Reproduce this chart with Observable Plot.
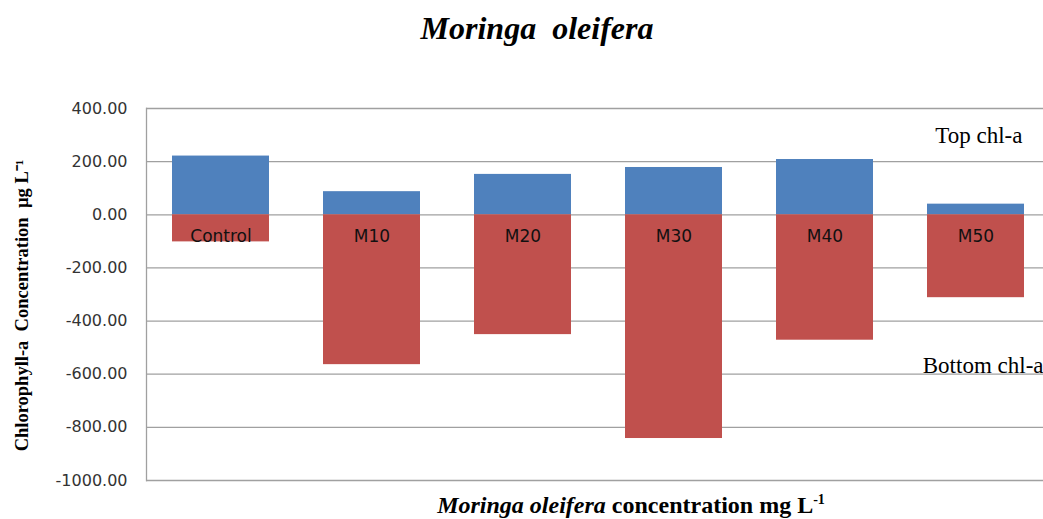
<!DOCTYPE html>
<html><head><meta charset="utf-8">
<script src="https://cdn.jsdelivr.net/npm/d3@7"></script>
<script src="https://cdn.jsdelivr.net/npm/@observablehq/plot@0.6"></script>
<style>
html,body{margin:0;padding:0;background:#fff;}
#wrap{position:relative;width:1043px;height:519px;overflow:hidden;background:#fff;}
#wrap svg{position:absolute;left:0;top:0;}
#title{position:absolute;left:0;width:1074px;top:10px;line-height:32px;text-align:center;font:italic bold 32px "Liberation Serif";color:#000;white-space:pre;}
#xlabel{position:absolute;left:0;width:1262px;top:492px;line-height:24px;text-align:center;font:bold 24px "Liberation Serif";color:#000;white-space:pre;}
#xlabel sup{font-size:14px;vertical-align:9px;line-height:0;}
</style>
</head><body>
<div id="wrap">
  <div id="title"></div>
  <div id="xlabel"></div>
</div>
<script>
const titleText = "Moringa  oleifera";
const xLabelItalic = "Moringa oleifera";
const xLabelRest = " concentration mg L";
const xLabelSup = "-1";
const yLabel = ["Chlorophyll-a\u00a0\u00a0Concentration\u00a0\u00a0µg\u00a0L\u207B\u00B9"];
const categories = ["Control", "M10", "M20", "M30", "M40", "M50"];
const topChl = [221, 87, 152, 178, 208, 40];
const bottomChl = [-102, -564, -451, -842, -472, -312];
const yTicks = [-1000, -800, -600, -400, -200, 0, 200, 400];
const topLabel = ["Top chl-a"];
const bottomLabel = ["Bottom chl-a"];

const data = categories.map((c, i) => ({category: c, top: topChl[i], bottom: bottomChl[i]}));

document.getElementById("title").textContent = titleText;
const xl = document.getElementById("xlabel");
const it = document.createElement("i"); it.textContent = xLabelItalic; xl.appendChild(it);
xl.appendChild(document.createTextNode(xLabelRest));
const sp = document.createElement("sup"); sp.textContent = xLabelSup; xl.appendChild(sp);

const chart = Plot.plot({
  width: 1043,
  height: 519,
  marginTop: 108,
  marginBottom: 39,
  marginLeft: 146,
  marginRight: 0,
  style: {background: "transparent"},
  x: {type: "band", domain: categories, range: [146, 1051], paddingInner: 0.3576, paddingOuter: 0.175, axis: null},
  y: {domain: [-1000, 400], axis: null},
  marks: [
    Plot.gridY(yTicks, {stroke: "#a0a0a0", strokeOpacity: 1, strokeWidth: 1.3}),
    Plot.frame({anchor: "left", stroke: "#a0a0a0", strokeWidth: 1.3}),
    Plot.barY(data, {x: "category", y1: 0, y2: "top", fill: "#4F81BD"}),
    Plot.barY(data, {x: "category", y1: 0, y2: "bottom", fill: "#C0504D"}),
    Plot.axisY(yTicks, {tickSize: 0, tickPadding: 19, tickFormat: d => d.toFixed(2), fontSize: 16, fontFamily: "DejaVu Sans", fill: "#333", label: null}),
    Plot.text(data, {x: "category", y: 0, text: "category", dy: 22, fontSize: 17, fontFamily: "DejaVu Sans", fill: "#111"}),
    Plot.text(yLabel, {frameAnchor: "left", textAnchor: "middle", lineAnchor: "middle", dx: -124, dy: 11, rotate: -90, fontWeight: "bold", fontFamily: "Liberation Serif", fontSize: 18.5, fill: "#000"}),
    Plot.text(topLabel, {frameAnchor: "top-right", textAnchor: "end", lineAnchor: "middle", dx: -21, dy: 27, fontFamily: "Liberation Serif", fontSize: 23, fill: "#000"}),
    Plot.text(bottomLabel, {frameAnchor: "top-right", textAnchor: "end", lineAnchor: "middle", dx: 0, dy: 257, fontFamily: "Liberation Serif", fontSize: 23, fill: "#000"})
  ]
});
document.getElementById("wrap").insertBefore(chart, document.getElementById("wrap").firstChild);
</script>
</body></html>
